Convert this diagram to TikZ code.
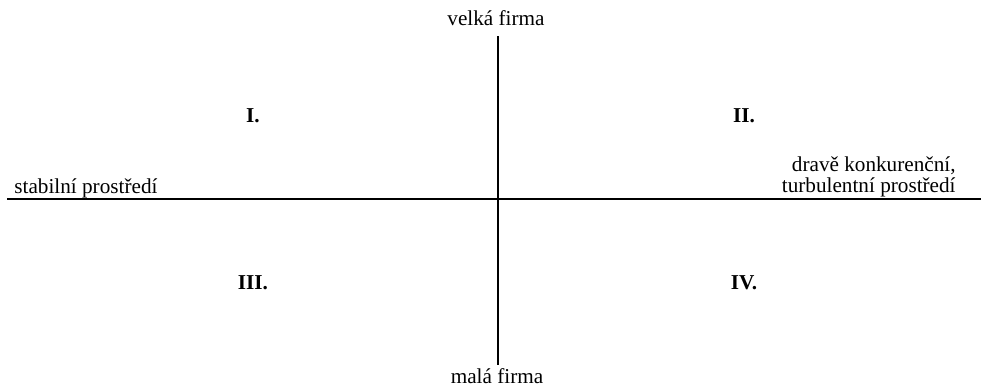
\documentclass[tikz,border=0pt]{standalone}
\usepackage{fontspec}
\setmainfont{Liberation Serif}
\usepackage{tikz}
\usetikzlibrary{positioning}

\begin{document}
\begin{tikzpicture}[x=0.5pt, y=-0.5pt,
    axis/.style={line width=1.2pt},
    axislabel/.style={font=\fontsize{10.6}{10.2}\selectfont, inner sep=0pt, anchor=base},
    quadrant/.style={font=\fontsize{10.6}{12}\selectfont\bfseries, inner sep=0pt, anchor=base}]
  \useasboundingbox (0,0) rectangle (982,386);

  % Axes
  \coordinate (west) at (7, 199);
  \coordinate (east) at (981, 199);
  \coordinate (north) at (498, 36);
  \coordinate (south) at (498, 365);
  \draw[axis] (west) -- (east);
  \draw[axis] (north) -- (south);

  % Axis labels
  \node[axislabel] (big) at (496, 25) {velká firma};
  \node[axislabel] (small) at (497, 383) {malá firma};
  \node[axislabel, anchor=base west] (stable) at (14, 193) {stabilní prostředí};
  \node[axislabel, anchor=base east, align=right] (turbulent) at (956, 192)
    {dravě konkurenční,\\turbulentní prostředí};

  % Quadrants
  \node[quadrant] (q1) at (253, 122) {I.};
  \node[quadrant] (q2) at (744, 122) {II.};
  \node[quadrant] (q3) at (253, 289) {III.};
  \node[quadrant] (q4) at (744, 289) {IV.};
\end{tikzpicture}
\end{document}
